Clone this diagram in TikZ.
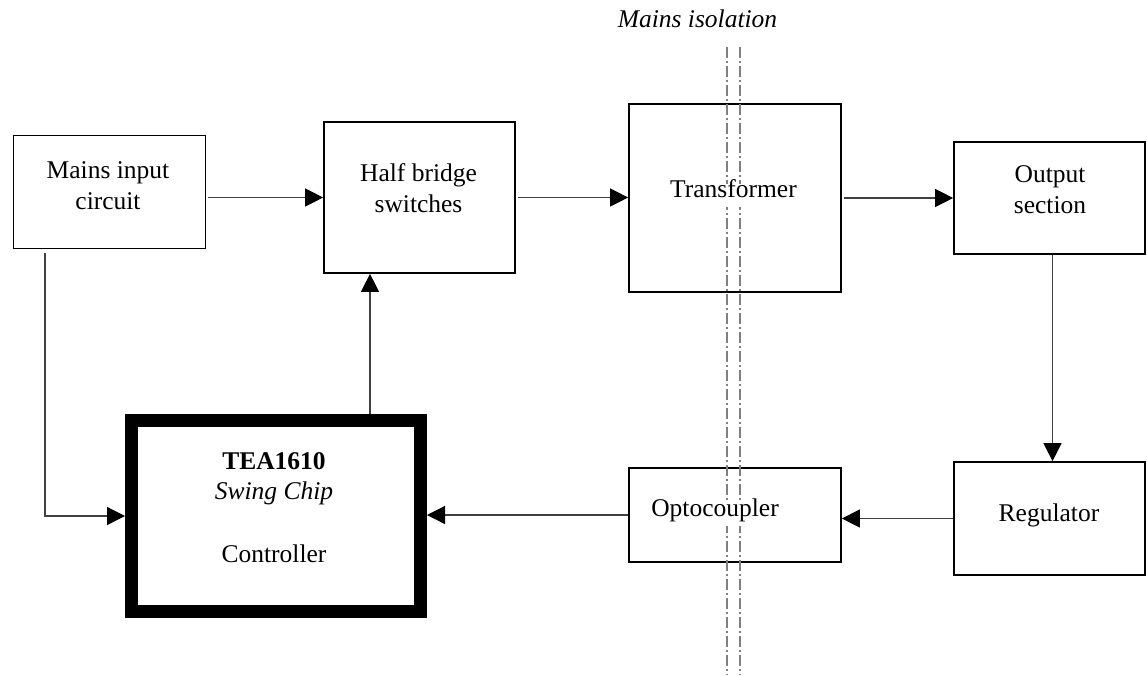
\documentclass[tikz,border=0pt]{standalone}
\usepackage{fontspec}
\setmainfont{Liberation Serif}
\usetikzlibrary{arrows.meta,calc}
\newcommand\dfs{\fontsize{25.5}{31}\selectfont}
\tikzset{
  box/.style={draw=black, line width=1.7pt, inner sep=0pt, anchor=center},
  chipbox/.style={draw=black, line width=13pt, inner sep=0pt, anchor=center},
  txt/.style={font=\dfs, align=center, inner sep=0pt, anchor=center},
  covtxt/.style={txt, fill=white, inner xsep=2pt, inner ysep=7pt, text height=0.7em, text depth=0.25em},
  arr/.style={draw=black!75, line width=1.3pt, -{Triangle[length=18pt,width=18pt,color=black]}},
  iso/.style={draw=black!50, line width=1.8pt, dash pattern=on 11pt off 3pt on 2pt off 3pt}
}
\begin{document}
\begin{tikzpicture}[x=1pt,y=-1pt]
\useasboundingbox (0,0) rectangle (1147,675);
\fill[white] (0,0) rectangle (1147,675);

% boxes
\node[box, minimum width=192pt, minimum height=113pt] (mains) at (109.5,192) {};
\node[box, minimum width=191pt, minimum height=151pt] (half) at (419.5,197.5) {};
\node[box, minimum width=212pt, minimum height=188pt] (trans) at (735,198) {};
\node[box, minimum width=191pt, minimum height=112pt] (out) at (1049.5,198) {};
\node[box, minimum width=191pt, minimum height=113pt] (reg) at (1049.5,518.5) {};
\node[box, minimum width=212pt, minimum height=94pt] (opto) at (735,515) {};
\node[chipbox, minimum width=289pt, minimum height=191pt] (tea) at (276,516) {};

% mains isolation lines
\coordinate (isoAtop) at (727,47);
\coordinate (isoAbot) at (727,675);
\coordinate (isoBtop) at (740,47);
\coordinate (isoBbot) at (740,675);
\draw[iso] (isoAtop) -- (isoAbot);
\draw[iso] (isoBtop) -- (isoBbot);
\node[txt, font=\dfs\itshape] (isolabel) at (697.5,18.5) {Mains isolation};

% texts
\node[txt] (mainsT) at (108,186) {Mains input\\circuit};
\node[txt] (halfT) at (418.5,188) {Half bridge\\switches};
\node[covtxt] (transT) at (733.5,195.3) {Transformer};
\node[txt] (outT) at (1050,189.5) {Output\\section};
\node[txt] (regT) at (1049,515) {Regulator};
\node[covtxt] (optoT) at (715,514.3) {Optocoupler};
\node[txt, font=\fontsize{25.5}{30}\selectfont] (teaT) at (274,508) {\textbf{TEA1610}\\\textit{Swing Chip}\\[33pt]Controller};

% connectors
\draw[arr] ([xshift=2pt]mains.east |- half.west) -- (half.west);
\draw[arr] ([xshift=2pt]half.east) -- (trans.west |- half.east);
\draw[arr] ([xshift=2pt]trans.east) -- (out.west |- trans.east);
\draw[arr] ([xshift=3pt]out.south) -- ([xshift=3pt]reg.north);
\draw[arr] (reg.west) -- (opto.east |- reg.west);
\draw[arr] (opto.west) -- (tea.east |- opto.west);
\coordinate (mdrop) at (45,253);
\draw[arr] (mdrop) |- (tea.west);
\draw[arr] ([xshift=94pt]tea.north) -- ([xshift=94pt]tea.north |- half.south);
\end{tikzpicture}
\end{document}
